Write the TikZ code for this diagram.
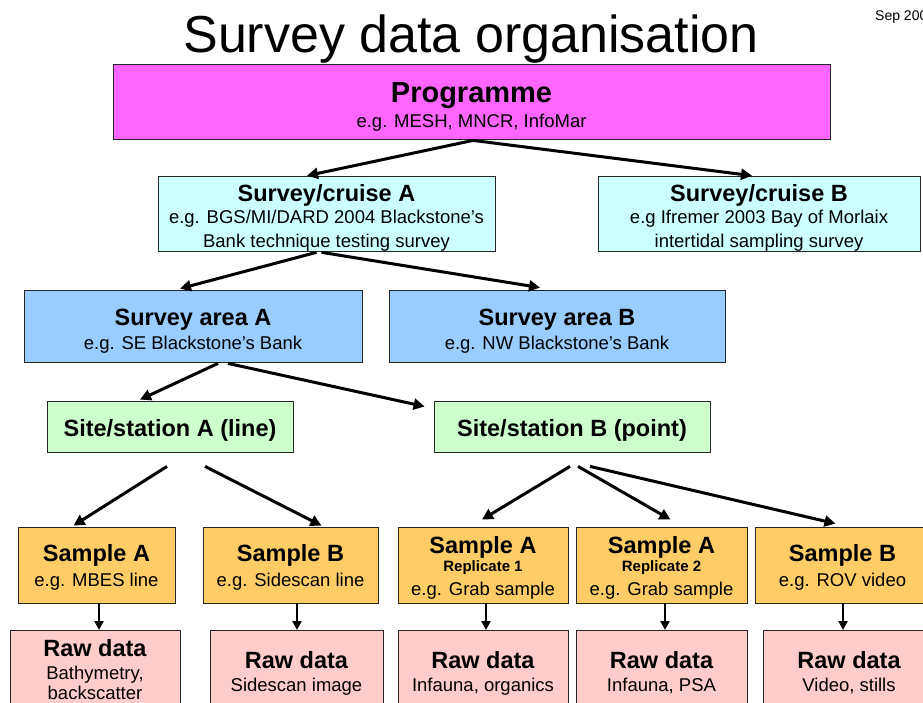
\documentclass[tikz,border=0pt]{standalone}
\usepackage{fontspec}
\setmainfont{Liberation Sans}
\usetikzlibrary{arrows.meta,calc}
\definecolor{progcol}{RGB}{255,102,255}
\definecolor{cruisecol}{RGB}{204,255,255}
\definecolor{areacol}{RGB}{153,204,255}
\definecolor{sitecol}{RGB}{204,255,204}
\definecolor{samplecol}{RGB}{255,204,102}
\definecolor{rawcol}{RGB}{255,204,204}
\newcommand{\hdfont}{\fontsize{23.5}{24}\selectfont\bfseries}
\newcommand{\bigfont}{\fontsize{29}{24}\selectfont\bfseries}
\newcommand{\repfont}{\fontsize{15}{24}\selectfont\bfseries}
\newcommand{\strutof}[1]{\rule{0pt}{#1pt}}
\begin{document}
\begin{tikzpicture}[x=1pt,y=-1pt,
  box/.style={draw=black!85,line width=0.8pt,inner sep=0pt,align=center,
    font=\fontsize{18.5}{24}\selectfont},
  arr/.style={line width=3pt,-{Triangle[length=11pt,width=11pt]}},
  varr/.style={line width=2.6pt,-{Triangle[length=9pt,width=9pt]}}]
\useasboundingbox (0,0) rectangle (923,702);
\clip (0,0) rectangle (923,702);
\fill[white] (0,0) rectangle (923,702);
% title
\node[anchor=base,inner sep=0pt,font=\fontsize{52}{60}\selectfont] (title) at (471,52) {Survey data organisation};
\node[anchor=base west,inner sep=0pt,font=\fontsize{14}{16}\selectfont] (date) at (875,20) {Sep 2006};
% boxes
\node[box,fill=progcol,minimum width=717,minimum height=75] (prog) at (471.5,101.5)
  {{\bigfont\strutof{31}Programme}\\[1pt] e.g. MESH, MNCR, InfoMar};
\node[box,fill=cruisecol,minimum width=337,minimum height=73] (sca) at (326.5,213.5)
  {{\hdfont\strutof{25}Survey/cruise A}\\[-2pt] e.g. BGS/MI/DARD 2004 Blackstone's\\ Bank technique testing survey};
\node[box,fill=cruisecol,minimum width=322,minimum height=73] (scb) at (759,213.5)
  {{\hdfont\strutof{25}Survey/cruise B}\\[-2pt] e.g Ifremer 2003 Bay of Morlaix\\ intertidal sampling survey};
\node[box,fill=areacol,minimum width=338,minimum height=72] (saa) at (193,326)
  {{\hdfont\strutof{26}Survey area A}\\ e.g. SE Blackstone's Bank};
\node[box,fill=areacol,minimum width=336,minimum height=72] (sab) at (557,326)
  {{\hdfont\strutof{26}Survey area B}\\ e.g. NW Blackstone's Bank};
\node[box,fill=sitecol,minimum width=246,minimum height=51] (sitea) at (170,426.5)
  {\hdfont\strutof{24}Site/station A (line)};
\node[box,fill=sitecol,minimum width=276,minimum height=51] (siteb) at (572,426.5)
  {\hdfont\strutof{24}Site/station B (point)};
% samples
\node[box,fill=samplecol,minimum width=157,minimum height=76] (sma) at (96.5,565)
  {{\hdfont\strutof{21}Sample A}\\[1pt] e.g. MBES line};
\node[box,fill=samplecol,minimum width=175,minimum height=76] (smb) at (290.5,565)
  {{\hdfont\strutof{21}Sample B}\\[1pt] e.g. Sidescan line};
\node[box,fill=samplecol,minimum width=170,minimum height=76] (rep1) at (483,565)
  {{\hdfont\strutof{22}Sample A}\\[-6pt] {\repfont Replicate 1}\\[0pt] e.g. Grab sample};
\node[box,fill=samplecol,minimum width=171,minimum height=76] (rep2) at (661.5,565)
  {{\hdfont\strutof{22}Sample A}\\[-6pt] {\repfont Replicate 2}\\[0pt] e.g. Grab sample};
\node[box,fill=samplecol,minimum width=175,minimum height=76] (rov) at (842.5,565)
  {{\hdfont\strutof{21}Sample B}\\[1pt] e.g. ROV video};
% raw data
\node[box,fill=rawcol,minimum width=170,minimum height=79,anchor=north] (rawa) at (95,630)
  {{\hdfont Raw data}\\[-1pt] Bathymetry,\\[-4pt] backscatter};
\node[box,fill=rawcol,minimum width=173,minimum height=85,anchor=north] (rawb) at (296.5,630)
  {{\hdfont Raw data}\\[-1pt] Sidescan image};
\node[box,fill=rawcol,minimum width=170,minimum height=85,anchor=north] (rawr1) at (483,630)
  {{\hdfont Raw data}\\[-1pt] Infauna, organics};
\node[box,fill=rawcol,minimum width=171,minimum height=85,anchor=north] (rawr2) at (661.5,630)
  {{\hdfont Raw data}\\[-1pt] Infauna, PSA};
\node[box,fill=rawcol,minimum width=172,minimum height=85,anchor=north] (rawrov) at (849,630)
  {{\hdfont Raw data}\\[-1pt] Video, stills};
% arrows
\draw[arr] ($(prog.south)+(1.5,1)$) -- ($(sca.north)+(-19.5,0)$);
\draw[arr] ($(prog.south)+(1.5,1)$) -- ($(scb.north)+(-7,0)$);
\draw[arr] ($(sca.south)+(-10,1)$) -- ($(saa.north)+(-13,-1)$);
\draw[arr] ($(sca.south)+(-5,1)$) -- ($(sab.north)+(-17,-2)$);
\draw[arr] ($(saa.south)+(25,1)$) -- ($(sitea.north)+(-30,-1)$);
\draw[arr] ($(saa.south)+(35,1)$) -- ($(siteb.west)+(-9,-20)$);
\draw[arr] ($(sitea.south)+(-3,14)$) -- ($(sma.north)+(-23,-1)$);
\draw[arr] ($(sitea.south)+(35,14)$) -- ($(smb.north)+(31,-1)$);
\draw[arr] ($(siteb.south)+(-2,14)$) -- ($(rep1.north)+(-1,-7)$);
\draw[arr] ($(siteb.south)+(6,14)$) -- ($(rep2.north)+(9,-7)$);
\draw[arr] ($(siteb.south)+(18,14)$) -- ($(rov.north)+(-7,-3)$);
\draw[varr] ($(sma.south)+(2.5,0)$) -- ($(rawa.north)+(4,0)$);
\draw[varr] ($(smb.south)+(6.5,0)$) -- ($(rawb.north)+(0.5,0)$);
\draw[varr] ($(rep1.south)+(3,0)$) -- ($(rawr1.north)+(3,0)$);
\draw[varr] ($(rep2.south)+(3.5,0)$) -- ($(rawr2.north)+(3.5,0)$);
\draw[varr] ($(rov.south)+(0.5,0)$) -- ($(rawrov.north)+(-6,0)$);
\end{tikzpicture}
\end{document}
